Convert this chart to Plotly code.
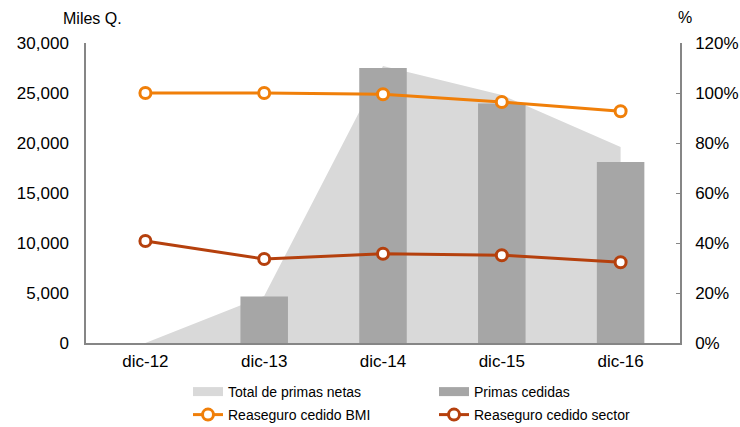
import plotly.graph_objects as go

categories = ["dic-12", "dic-13", "dic-14", "dic-15", "dic-16"]
total_primas_netas = [0, 4700, 27700, 24800, 19600]
primas_cedidas = [0, 4650, 27500, 23950, 18100]
reaseguro_bmi = [1.00, 1.00, 0.995, 0.964, 0.927]
reaseguro_sector = [0.408, 0.336, 0.357, 0.351, 0.323]

FONT = "Liberation Sans, Arial, sans-serif"
AXIS = "#868686"
GRAY_AREA = "#D9D9D9"
GRAY_BAR = "#A6A6A6"
ORANGE = "#F07F09"
RUST = "#B5400D"
L, R, T, B = 86, 60, 43, 84
W, H = 740, 427
PW, PH = W - L - R, H - T - B

fig = go.Figure()
# area on base axis (drawn first)
fig.add_trace(go.Scatter(
    x=categories, y=total_primas_netas, name="Total de primas netas",
    mode="lines", fill="tozeroy", fillcolor=GRAY_AREA,
    line=dict(width=0, color=GRAY_AREA), yaxis="y", showlegend=False,
))
# bars on hidden overlay axis y2 (drawn above area)
fig.add_trace(go.Bar(
    x=categories, y=primas_cedidas, name="Primas cedidas",
    marker=dict(color=GRAY_BAR, line=dict(width=0)), width=0.4,
    yaxis="y2", showlegend=False,
))
# lines on right axis y3 (drawn on top)
fig.add_trace(go.Scatter(
    x=categories, y=reaseguro_bmi, name="Reaseguro cedido BMI",
    mode="lines+markers", line=dict(color=ORANGE, width=3),
    marker=dict(symbol="circle", size=11, color="white",
                line=dict(color=ORANGE, width=3)),
    yaxis="y3", legend="legend2",
))
fig.add_trace(go.Scatter(
    x=categories, y=reaseguro_sector, name="Reaseguro cedido sector",
    mode="lines+markers", line=dict(color=RUST, width=3),
    marker=dict(symbol="circle", size=11, color="white",
                line=dict(color=RUST, width=3)),
    yaxis="y3", legend="legend2",
))
# legend swatches for area and bars (wide rectangles like the original)
fig.add_trace(go.Scatter(
    x=[None], y=[None], name="Total de primas netas", mode="lines",
    line=dict(color=GRAY_AREA, width=9), yaxis="y", legend="legend",
))
fig.add_trace(go.Scatter(
    x=[None], y=[None], name="Primas cedidas", mode="lines",
    line=dict(color=GRAY_BAR, width=9), yaxis="y", legend="legend",
))

leg_x = (188 - L) / PW


def leg_y(px):
    return -(px - (T + PH)) / PH


leg_common = dict(
    orientation="h", x=leg_x, xanchor="left", yanchor="top",
    entrywidth=201, entrywidthmode="pixels",
    font=dict(size=14, family=FONT, color="#000000"),
    bgcolor="rgba(0,0,0,0)", traceorder="normal",
)

fig.update_layout(
    width=W, height=H,
    margin=dict(l=L, r=R, t=T, b=B, autoexpand=False),
    paper_bgcolor="white", plot_bgcolor="white",
    font=dict(family=FONT, size=17, color="#000000"),
    showlegend=True,
    xaxis=dict(
        type="category", range=[-0.5, 4.5],
        showline=True, linecolor=AXIS, linewidth=1.5,
        ticks="", showgrid=False, zeroline=False,
        tickfont=dict(size=17), ticklabelstandoff=2,
    ),
    yaxis=dict(
        range=[0, 30000], tickvals=[0, 5000, 10000, 15000, 20000, 25000, 30000],
        tickformat=",d", showline=True, linecolor=AXIS, linewidth=1.5,
        ticks="", showgrid=False, zeroline=False,
        tickfont=dict(size=17), ticklabelstandoff=12,
    ),
    yaxis2=dict(
        overlaying="y", range=[0, 30000], visible=False,
        showgrid=False, zeroline=False,
    ),
    yaxis3=dict(
        overlaying="y", side="right", range=[0, 1.2],
        tickvals=[0, 0.2, 0.4, 0.6, 0.8, 1.0, 1.2], tickformat=".0%",
        showline=True, linecolor=AXIS, linewidth=1.5,
        ticks="inside", ticklen=4, tickcolor=AXIS,
        showgrid=False, zeroline=False,
        tickfont=dict(size=17), ticklabelstandoff=10,
    ),
    legend=dict(y=leg_y(376), **leg_common),
    legend2=dict(y=leg_y(399), **leg_common),
    annotations=[
        dict(text="Miles Q.", x=(92 - L) / PW, y=(T + PH - 18) / PH,
             xref="paper", yref="paper", xanchor="center", yanchor="middle",
             showarrow=False, font=dict(size=16)),
        dict(text="%", x=(685 - L) / PW, y=(T + PH - 17) / PH,
             xref="paper", yref="paper", xanchor="center", yanchor="middle",
             showarrow=False, font=dict(size=16)),
    ],
)

fig.write_html("out.html")
